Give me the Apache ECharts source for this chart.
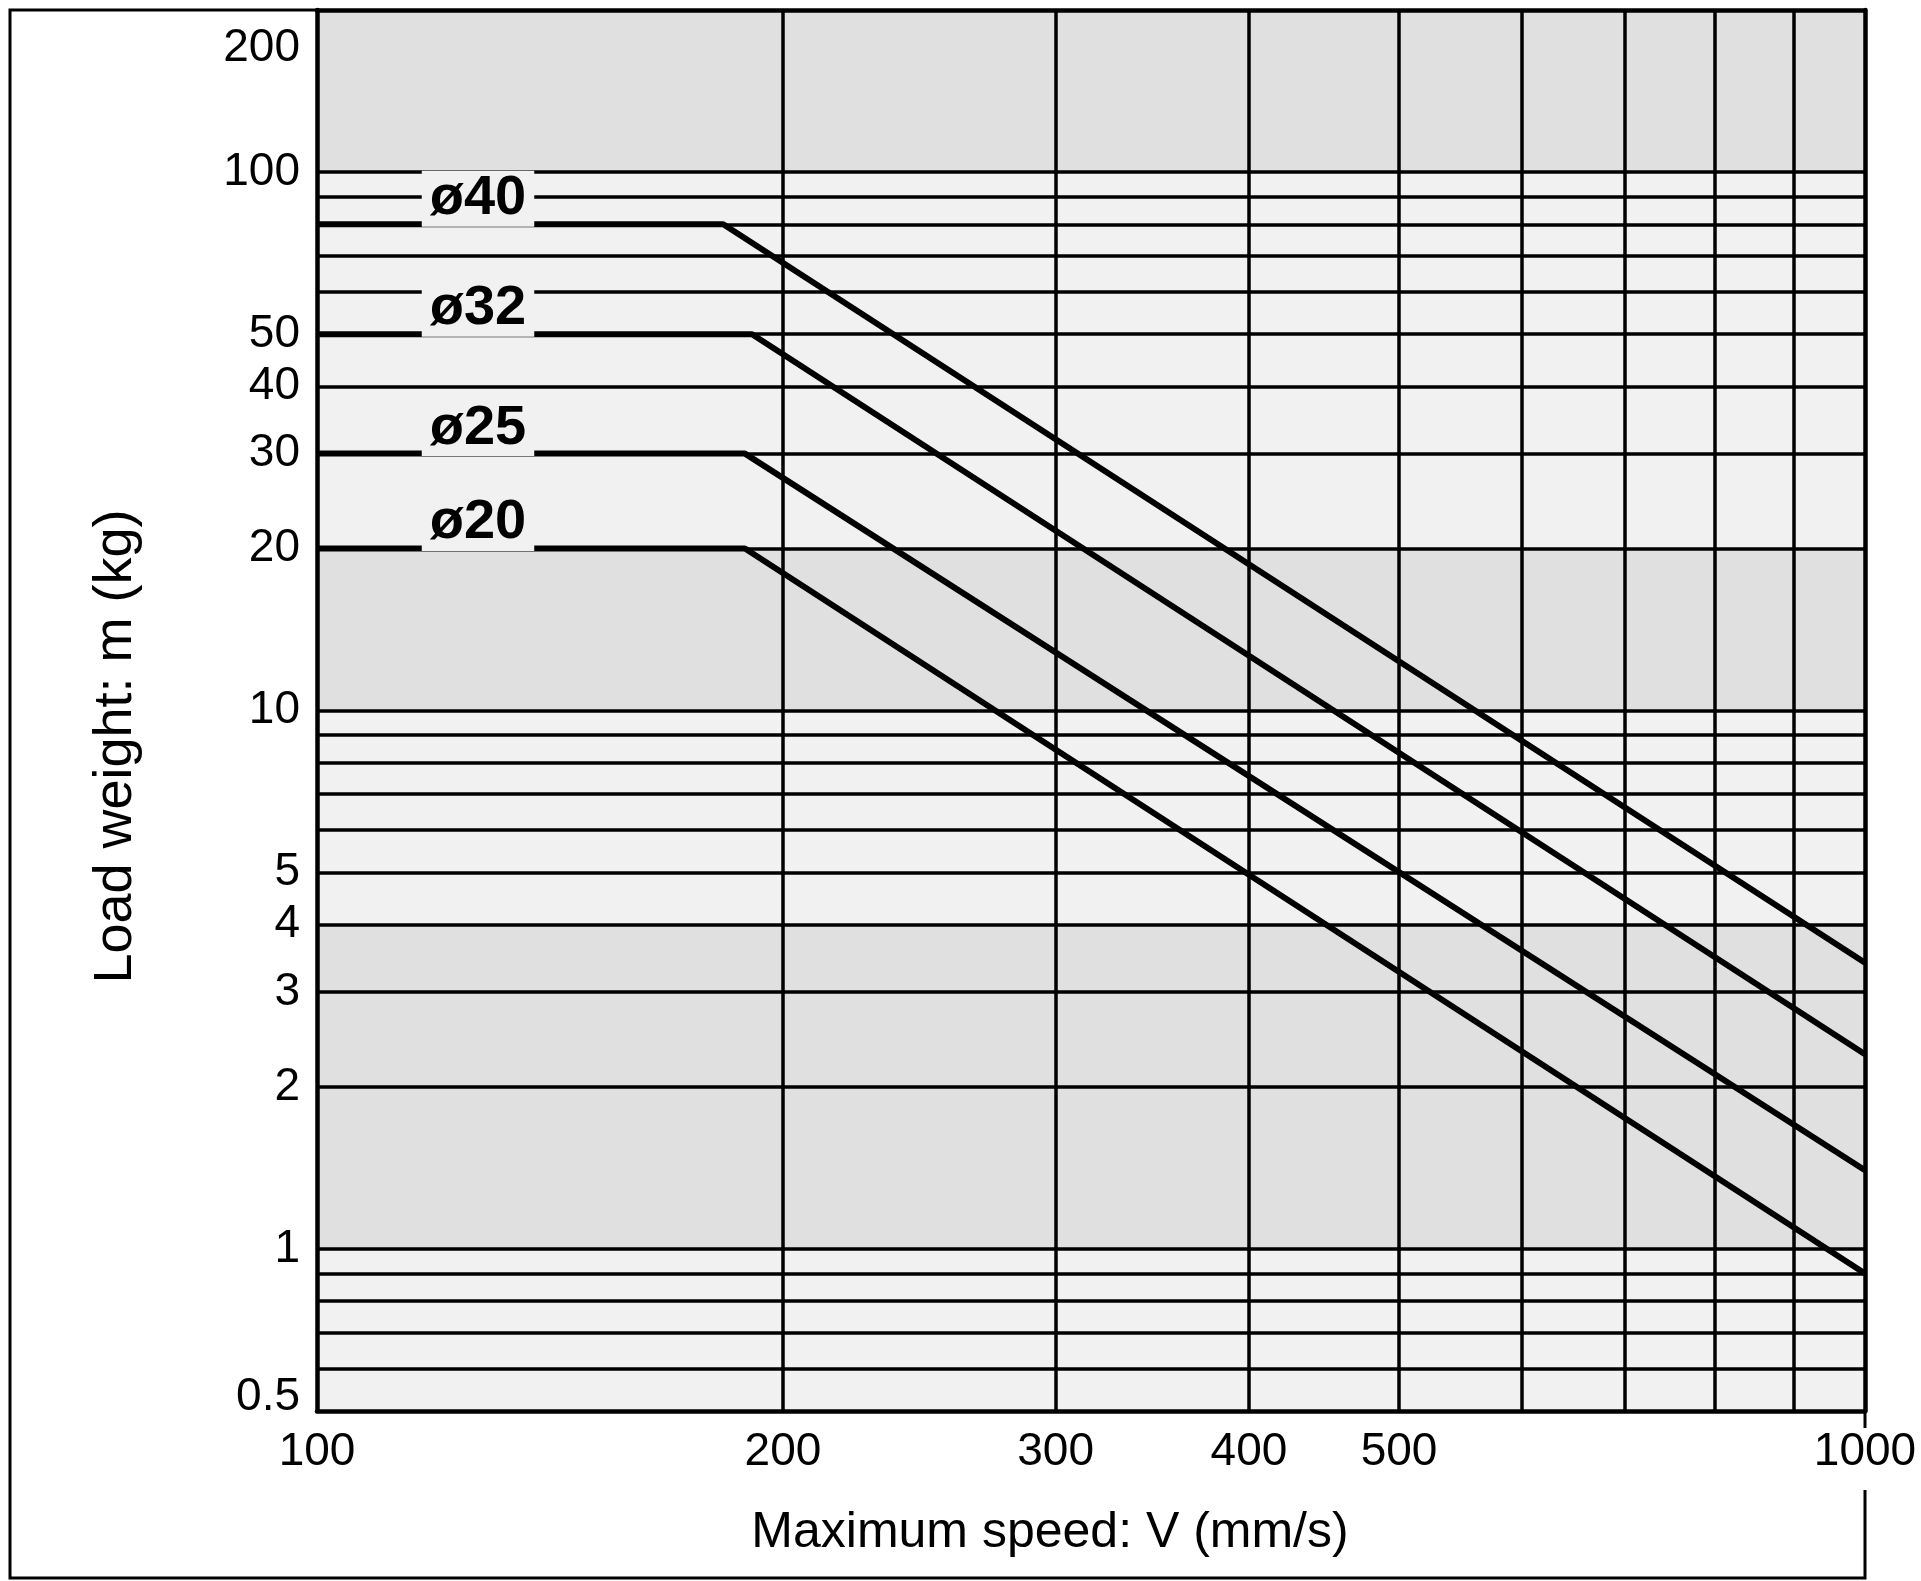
<!DOCTYPE html>
<html>
<head>
<meta charset="utf-8">
<title>Load weight vs maximum speed</title>
<style>
  html, body { margin: 0; padding: 0; background: #fff; }
  #main { width: 1921px; height: 1581px; }
</style>
</head>
<body>
<div id="main"></div>
<script src="https://cdn.jsdelivr.net/npm/echarts@6/dist/echarts.min.js"></script>
<script>
// allowable load per bore size
var sizes = ['ø40', 'ø32', 'ø25', 'ø20'];
var flatLoad = [80, 50, 30, 20];        // kg, constant part
var kneeSpeed = [183, 191, 189, 189];   // mm/s, where the limit starts to fall
var endLoad = [3.4, 2.3, 1.4, 0.9];     // kg at 1000 mm/s
var speedMin = 100, speedMax = 1000;
var loadMin = 0.5, loadMax = 200;

// axes
var speedLabels = [100, 200, 300, 400, 500, 1000];
var speedGrid = [200, 300, 400, 500, 600, 700, 800, 900];
var loadLabels = [0.5, 1, 2, 3, 4, 5, 10, 20, 30, 40, 50, 100, 200];
var loadGrid = [0.6, 0.7, 0.8, 0.9, 1, 2, 3, 4, 5, 6, 7, 8, 9, 10, 20, 30, 40, 50, 60, 70, 80, 90, 100];
// bands where the printed tint comes out darker
var darkBands = [[1, 4], [10, 20], [100, 200]];

var font = 'Liberation Sans, Arial, Helvetica, sans-serif';
var tint = '#f1f1f1';

var chart = echarts.init(document.getElementById('main'));

var series = sizes.map(function (name, i) {
    var pts = [[speedMin, flatLoad[i]], [kneeSpeed[i], flatLoad[i]], [speedMax, endLoad[i]]];
    return {
        type: 'line',
        name: name,
        z: 4,
        symbol: 'circle',
        symbolSize: 1,
        showSymbol: true,
        silent: true,
        lineStyle: { color: '#000', width: 6 },
        itemStyle: { color: '#000' },
        label: { show: false },
        data: pts.map(function (p, k) {
            if (k > 0) return p;
            return {
                value: p,
                label: {
                    show: true,
                    position: 'top',
                    distance: 0,
                    offset: [161, 3],
                    formatter: '{a}',
                    fontFamily: font,
                    fontSize: 56,
                    fontWeight: 'bold',
                    color: '#000',
                    backgroundColor: tint,
                    padding: [0, 8]
                }
            };
        })
    };
});

series[0].markArea = {
    silent: true,
    itemStyle: { color: '#e0e0e0' },
    data: darkBands.map(function (b) {
        return [{ yAxis: b[0] }, { yAxis: b[1] }];
    })
};

var lineBlack = { color: '#000', width: 4.5 };

chart.setOption({
    animation: false,
    backgroundColor: '#fff',
    grid: {
        left: 317, right: 56, top: 10, bottom: 170,
        show: true, backgroundColor: tint, borderWidth: 0,
        containLabel: false, outerBoundsMode: 'none'
    },
    xAxis: [{
        type: 'log',
        min: speedMin, max: speedMax,
        z: 2,
        name: 'Maximum speed: V (mm/s)',
        nameLocation: 'middle',
        nameGap: 97,
        nameTextStyle: { fontFamily: font, fontSize: 50, color: '#000', padding: [0, 82, 0, 0] },
        axisLine: { show: true, lineStyle: lineBlack },
        axisTick: { show: false, customValues: speedGrid },
        axisLabel: {
            customValues: speedLabels,
            margin: 18,
            fontFamily: font, fontSize: 46, color: '#000',
            hideOverlap: false,
            formatter: function (v) { return String(v); }
        },
        splitLine: { show: true, lineStyle: { color: '#000', width: 3.5 } }
    }, {
        type: 'log',
        min: speedMin, max: speedMax,
        position: 'top',
        z: 2,
        axisLine: { show: true, lineStyle: lineBlack },
        axisTick: { show: false },
        axisLabel: { show: false },
        splitLine: { show: false }
    }],
    yAxis: [{
        type: 'log',
        min: loadMin, max: loadMax,
        z: 2,
        name: 'Load weight: m (kg)',
        nameLocation: 'middle',
        nameRotate: 90,
        nameGap: 174,
        nameTextStyle: { fontFamily: font, fontSize: 54, color: '#000', padding: [0, 72, 0, 0] },
        axisLine: { show: true, lineStyle: lineBlack },
        axisTick: { show: false, customValues: loadGrid },
        axisLabel: {
            customValues: loadLabels,
            margin: 17,
            fontFamily: font, fontSize: 46, color: '#000',
            hideOverlap: false,
            formatter: function (v) {
                if (v === loadMax) return '{top|' + v + '}';
                if (v === loadMin) return '{bot|' + v + '}';
                return String(v);
            },
            rich: {
                top: { fontFamily: font, fontSize: 46, color: '#000', padding: [76, 0, 0, 0] },
                bot: { fontFamily: font, fontSize: 46, color: '#000', padding: [0, 0, 28, 0] }
            }
        },
        splitLine: { show: true, lineStyle: { color: '#000', width: 3.5 } }
    }, {
        type: 'log',
        min: loadMin, max: loadMax,
        position: 'right',
        z: 2,
        axisLine: { show: true, lineStyle: lineBlack },
        axisTick: { show: false },
        axisLabel: { show: false },
        splitLine: { show: false }
    }],
    graphic: [{
        type: 'polyline',
        silent: true,
        shape: { points: [[317, 10], [10, 10], [10, 1578], [1865, 1578], [1865, 1490]] },
        style: { stroke: '#000', lineWidth: 3, fill: null }
    }, {
        type: 'line',
        silent: true,
        shape: { x1: 1865, y1: 1411, x2: 1865, y2: 1428 },
        style: { stroke: '#000', lineWidth: 3 }
    }],
    series: series
});
</script>
</body>
</html>
